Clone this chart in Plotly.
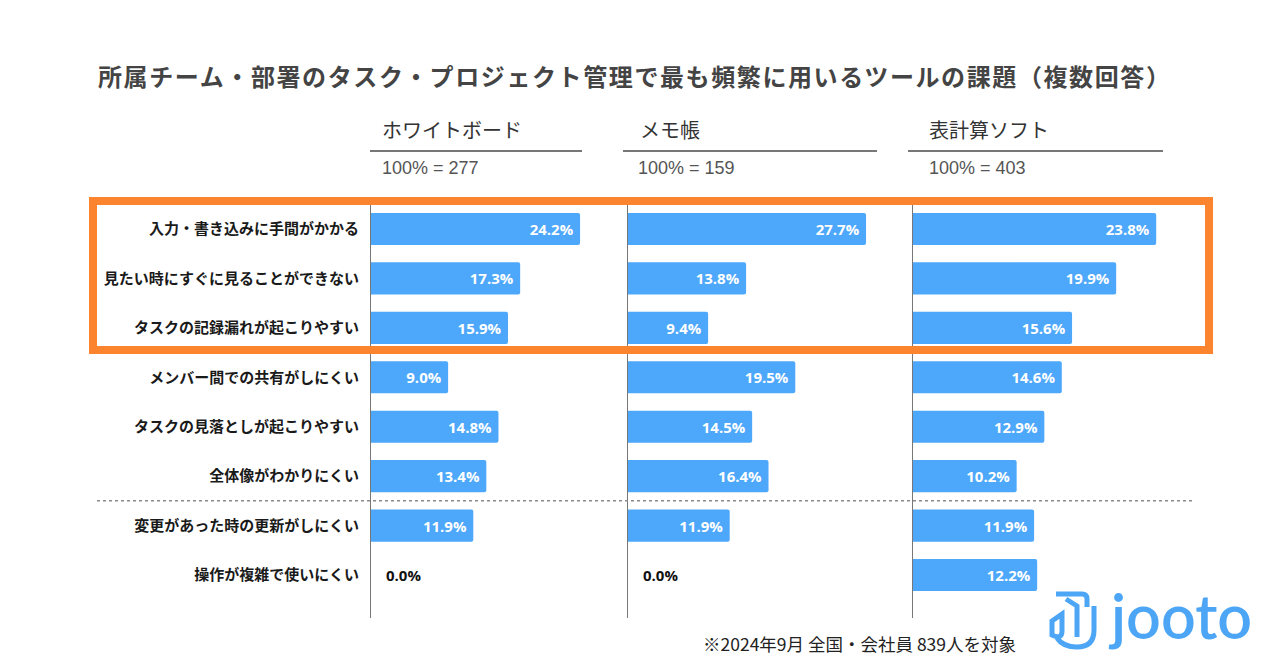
import plotly.graph_objects as go

W, H = 1280, 670

# ---------------- data ----------------
categories = [
    "入力・書き込みに手間がかかる",
    "見たい時にすぐに見ることができない",
    "タスクの記録漏れが起こりやすい",
    "メンバー間での共有がしにくい",
    "タスクの見落としが起こりやすい",
    "全体像がわかりにくい",
    "変更があった時の更新がしにくい",
    "操作が複雑で使いにくい",
]
whiteboard = [24.2, 17.3, 15.9, 9.0, 14.8, 13.4, 11.9, 0.0]
memo = [27.7, 13.8, 9.4, 19.5, 14.5, 16.4, 11.9, 0.0]
spreadsheet = [23.8, 19.9, 15.6, 14.6, 12.9, 10.2, 11.9, 12.2]
tools = ["ホワイトボード", "メモ帳", "表計算ソフト"]
base_n = [277, 159, 403]
title = "所属チーム・部署のタスク・プロジェクト管理で最も頻繁に用いるツールの課題（複数回答）"
footnote = "※2024年9月 全国・会社員 839人を対象"

series = [whiteboard, memo, spreadsheet]

# ---------------- style / layout ----------------
BAR = "#4DA7FA"
ORANGE = "#FC842E"
AXIS = "#777777"
JP = "Noto Sans CJK JP"
NUM = "Open Sans"

def px(x):
    return x / W

def py(y):
    return 1 - y / H

# panel geometry (pixels) and x ranges
panel_dom = [(370, 600), (627, 880), (912, 1165)]
panel_scale = [8.68, 8.63, 10.26]  # px per percent
header_x = [380, 638, 927]
n_x = [380, 636, 927]
underline = [(370, 582), (623, 877), (908, 1163)]

row0, pitch = 229, 49.43
y_top, y_bot = 205, 618

fig = go.Figure()
axnames = ["x", "x2", "x3"]
for i, vals in enumerate(series):
    texts = [(f"{v:.1f}%\u00a0" if v > 0 else "") for v in vals]
    fig.add_trace(go.Bar(
        x=vals, y=categories, orientation="h",
        xaxis=axnames[i], yaxis="y",
        marker=dict(color=BAR, line=dict(width=0), cornerradius=2),
        width=0.65,
        text=texts, textposition="inside", insidetextanchor="end",
        textfont=dict(family=NUM, size=15, color="white", weight="bold"),
        cliponaxis=False, showlegend=False, hoverinfo="x+y",
    ))

layout_axes = {}
for i in range(3):
    d0, d1 = panel_dom[i]
    key = "xaxis" if i == 0 else f"xaxis{i+1}"
    layout_axes[key] = dict(
        domain=[px(d0), px(d1)],
        range=[0, (d1 - d0) / panel_scale[i]],
        visible=False, anchor="y", fixedrange=True,
    )

i_top = (y_top - row0) / pitch
i_bot = (y_bot - row0) / pitch

fig.update_layout(
    width=W, height=H, autosize=False,
    margin=dict(l=0, r=0, t=0, b=0),
    paper_bgcolor="white", plot_bgcolor="rgba(0,0,0,0)",
    bargap=0.35,
    yaxis=dict(
        domain=[py(y_bot), py(y_top)],
        type="category", categoryorder="array", categoryarray=categories,
        range=[i_bot, i_top], fixedrange=True,
        showgrid=False, zeroline=False, showline=False, ticks="",
        ticklabelstandoff=10, anchor="x",
        tickfont=dict(family=JP, size=15, color="#1a1a1a", weight="bold"),
    ),
    **layout_axes,
)

shapes = []
# vertical baselines
for i in range(3):
    shapes.append(dict(type="line", xref=axnames[i], yref="paper",
                       x0=0, x1=0, y0=py(y_top), y1=py(y_bot),
                       line=dict(color=AXIS, width=2), layer="above"))
# header underlines
for (a, b) in underline:
    shapes.append(dict(type="line", xref="paper", yref="paper",
                       x0=px(a), x1=px(b), y0=py(151), y1=py(151),
                       line=dict(color="#777777", width=2)))
# dotted separator between rows 6 and 7
shapes.append(dict(type="line", xref="paper", yref="y",
                   x0=px(97), x1=px(1192), y0=5.5, y1=5.5,
                   line=dict(color="#8a8a8a", width=1.5, dash="dot")))
# orange highlight box
shapes.append(dict(type="rect", xref="paper", yref="paper",
                   x0=px(93), x1=px(1209), y0=py(201), y1=py(350),
                   line=dict(color=ORANGE, width=8), fillcolor="rgba(0,0,0,0)"))

# logo icon (decorative, approximate)
def path(pts_cmds):
    out = []
    for c in pts_cmds:
        if isinstance(c, str):
            out.append(c)
        else:
            out.append(f"{px(c[0]):.5f},{py(c[1]):.5f}")
    return " ".join(out)

LOGO = "#4DA6F5"
icon_paths = [
    ["M", (1056, 594), "L", (1082, 594), "Q", (1087, 594), (1087, 599), "L", (1087, 607)],
    ["M", (1066, 599), "L", (1077, 606), "L", (1077, 637)],
    ["M", (1094, 606), "L", (1094, 630), "Q", (1094, 647), (1077, 647), "Q", (1063, 647), (1057, 638)],
    ["M", (1052, 621), "L", (1062, 614), "L", (1062, 631), "Q", (1062, 640), (1052, 635), "Z"],
]
for p in icon_paths:
    shapes.append(dict(type="path", xref="paper", yref="paper", path=path(p),
                       line=dict(color=LOGO, width=5), fillcolor="rgba(0,0,0,0)"))

fig.update_layout(shapes=shapes)

ann = []
ann.append(dict(text=f'<span style="letter-spacing:1.6px">{title}</span>',
                xref="paper", yref="paper", x=px(96), y=py(75),
                xanchor="left", yanchor="middle", showarrow=False,
                font=dict(family=JP, size=24, color="#444444", weight="bold")))
for i in range(3):
    ann.append(dict(text=tools[i], xref="paper", yref="paper", x=px(header_x[i]), y=py(129),
                    xanchor="left", yanchor="middle", showarrow=False,
                    font=dict(family=JP, size=20, color="#333333")))
    ann.append(dict(text=f"100% = {base_n[i]}", xref="paper", yref="paper", x=px(n_x[i]), y=py(168),
                    xanchor="left", yanchor="middle", showarrow=False,
                    font=dict(family="Liberation Sans", size=18, color="#555555")))
    for c, v in zip(categories, series[i]):
        if v == 0:
            ann.append(dict(text=f"{v:.1f}%", xref=axnames[i], yref="y", x=0, y=c,
                            xanchor="left", yanchor="middle", xshift=14, showarrow=False,
                            font=dict(family=NUM, size=15, color="#111111", weight="bold")))
ann.append(dict(text=footnote, xref="paper", yref="paper", x=px(859), y=py(643),
                xanchor="center", yanchor="middle", showarrow=False,
                font=dict(family=JP, size=17.5, color="#222222")))
ann.append(dict(text="jooto", xref="paper", yref="paper", x=px(1106), y=py(615),
                xanchor="left", yanchor="middle", showarrow=False,
                font=dict(family="Lato", size=61, color=LOGO, weight=600)))
fig.update_layout(annotations=ann)

fig.write_html("out.html", config={"displayModeBar": False},
               post_script="document.body.style.margin='0';document.body.style.padding='0';")
